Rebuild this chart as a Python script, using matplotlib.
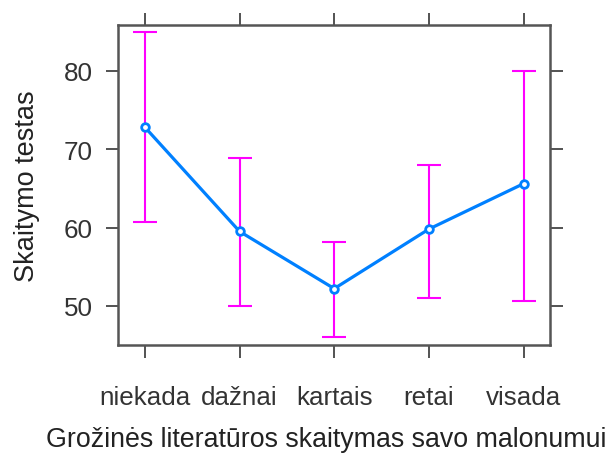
import numpy as np
import matplotlib
matplotlib.use("Agg")
import matplotlib.pyplot as plt

plt.rcParams["font.family"] = ["Liberation Sans", "DejaVu Sans"]

# group means with lower / upper interval bounds
groups = ["niekada", "dažnai", "kartais", "retai", "visada"]
mean = [72.8, 59.5, 52.2, 59.8, 65.6]
lower = [60.7, 50.0, 46.0, 51.0, 50.6]
upper = [85.0, 68.9, 58.2, 68.0, 80.0]
yticks = [50, 60, 70, 80]

x = np.arange(1, len(groups) + 1)
mean = np.array(mean)
err = [mean - np.array(lower), np.array(upper) - mean]

fig = plt.figure(figsize=(6.11, 4.56), dpi=100)
ax = fig.add_axes([0.1931, 0.2412, 0.7071, 0.7007])

ax.errorbar(x, mean, yerr=err, fmt="none", ecolor="#ff00ff",
            elinewidth=1.5, capsize=8.3, capthick=1.5, zorder=2)
ax.plot(x, mean, color="#0080ff", lw=2.3, marker="o", ms=5.5,
        mfc="white", mec="#0080ff", mew=2, zorder=3)

ax.set_xlim(0.715, 5.28)
ax.set_ylim(45.0, 85.8)
ax.set_xticks(x)
ax.set_xticklabels(groups)
ax.set_yticks(yticks)

for s in ax.spines.values():
    s.set_color("#555555")
    s.set_linewidth(1.8)

ax.tick_params(axis="both", direction="out", length=9, width=1.3,
               color="#444444", labelcolor="#333333", labelsize=18.7)
ax.tick_params(axis="y", pad=9, right=True)
ax.tick_params(axis="x", pad=20, top=True)

ax.set_xlabel("Grožinės literatūros skaitymas savo malonumui",
              fontsize=19.3, color="#222222")
ax.xaxis.set_label_coords(0.4826, -0.255)
ax.set_ylabel("Skaitymo testas", fontsize=19.5, color="#222222", labelpad=17)

fig.savefig("out.png", dpi=100)
